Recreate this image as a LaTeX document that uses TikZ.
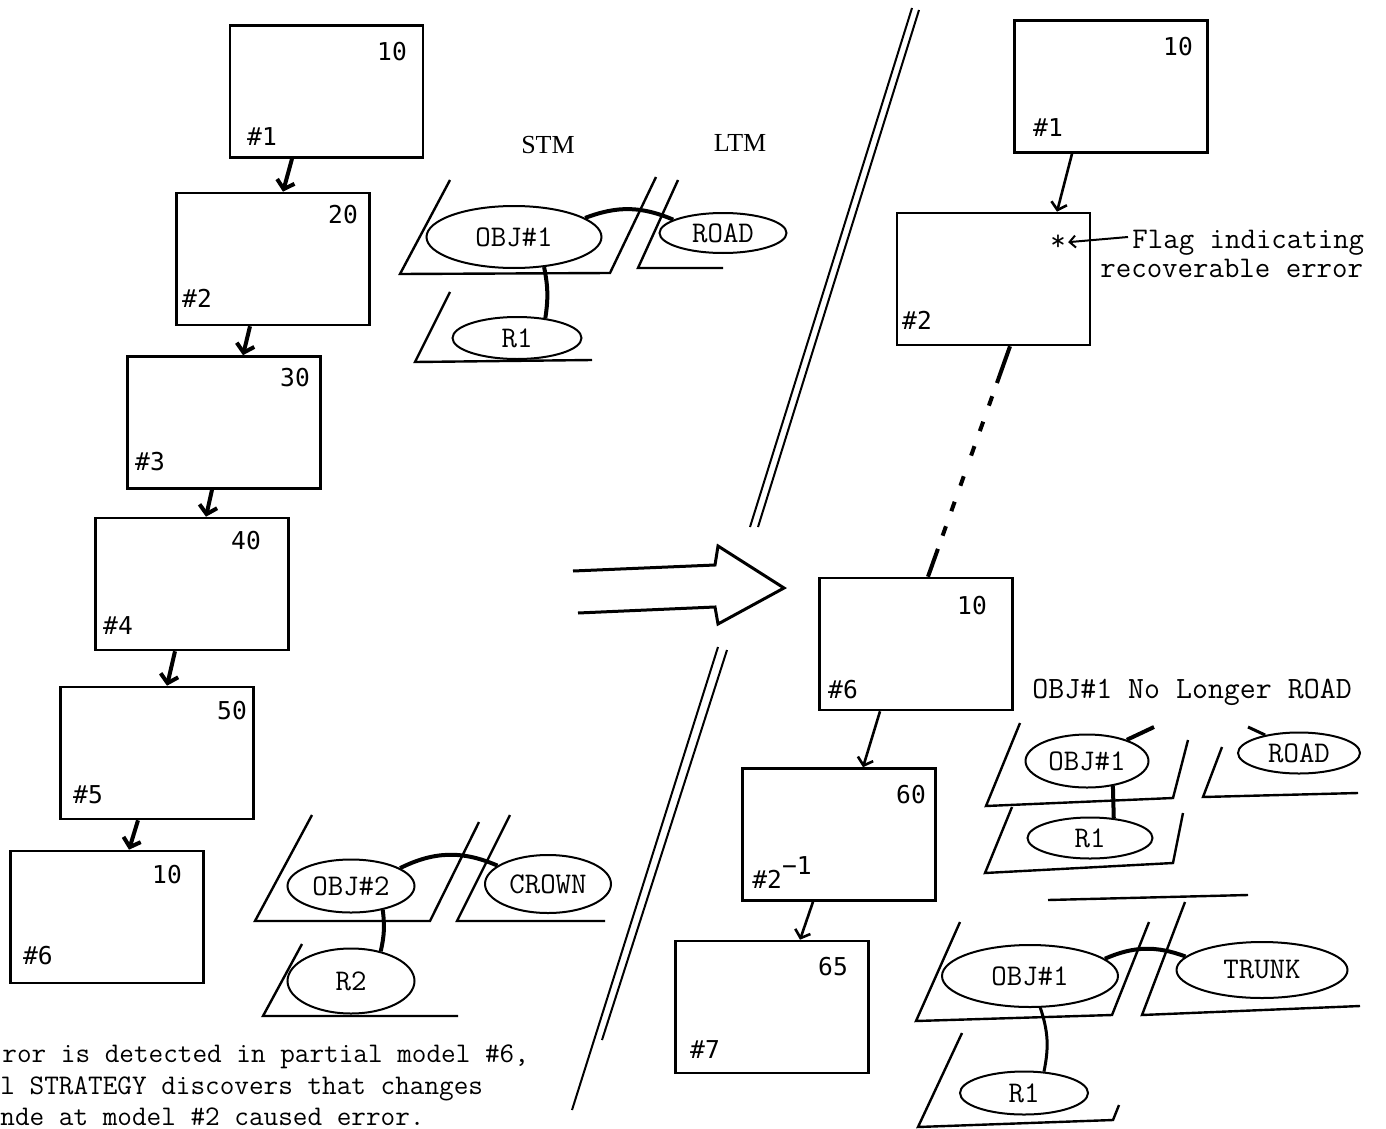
\documentclass[tikz,border=0pt]{standalone}
\usepackage{fontspec}
\usetikzlibrary{arrows.meta,shapes.geometric,calc}
\newfontfamily\boxfont{DejaVu Sans Mono}
\newfontfamily\rmlab{Liberation Serif}
\begin{document}
\begin{tikzpicture}[x=0.5pt,y=-0.5pt,
  box/.style={draw, line width=1.3pt, minimum width=96.5pt, minimum height=66pt, inner sep=0pt},
  num/.style={font=\boxfont\fontsize{12.3}{14}\selectfont, inner sep=0pt},
  conn/.style={line width=2pt, -{Straight Barb[length=4pt,width=9pt]}},
  thinconn/.style={line width=1.3pt, -{Straight Barb[length=3.5pt,width=8pt]}},
  ell/.style={draw, ellipse, line width=1pt, inner sep=0pt, font=\fontsize{15}{17}\ttfamily\addfontfeatures{FakeBold=3}},
  sz/.style 2 args={minimum width=#1*0.5pt, minimum height=#2*0.5pt},
  plane/.style={line width=1.2pt},
  link/.style={line width=2pt},
  tw/.style={font=\fontsize{15}{17}\ttfamily\addfontfeatures{FakeBold=3}, inner sep=0pt},
  twl/.style={font=\fontsize{15.5}{17}\ttfamily\addfontfeatures{FakeBold=3}, inner sep=0pt},
  twb/.style={font=\fontsize{14.2}{16}\ttfamily\addfontfeatures{FakeBold=3}, inner sep=0pt},
  lab/.style={font=\rmlab\fontsize{13}{15}\selectfont, inner sep=0pt},
  slash/.style={line width=1pt}
]
\useasboundingbox (0,0) rectangle (1386,1129);

% ---------- left column of partial models ----------
\node[box] (b1) at (326.5,91.5) {};
\node[box] (b2) at (273,259) {};
\node[box] (b3) at (224,422.5) {};
\node[box] (b4) at (192,584) {};
\node[box] (b5) at (157,753) {};
\node[box] (b6) at (107,917) {};
\node[num] (b1n) at (392,52) {10};   \node[num] (b1h) at (262,137) {\#1};
\node[num] (b2n) at (343,215) {20};  \node[num] (b2h) at (197,298) {\#2};
\node[num] (b3n) at (295,378) {30};  \node[num] (b3h) at (150,462) {\#3};
\node[num] (b4n) at (246,541) {40};  \node[num] (b4h) at (118,626) {\#4};
\node[num] (b5n) at (232,711) {50};  \node[num] (b5h) at (88,795) {\#5};
\node[num] (b6n) at (167,875) {10};  \node[num] (b6h) at (38,956) {\#6};
\draw[conn] ($(b1.south)+(-34.5,0)$) -- ($(b2.north)+(10,0)$);
\draw[conn] ($(b2.south)+(-23,0)$) -- ($(b3.north)+(19,0)$);
\draw[conn] ($(b3.south)+(-12,0)$) -- ($(b4.north)+(14,0)$);
\draw[conn] ($(b4.south)+(-17,0)$) -- ($(b5.north)+(10,0)$);
\draw[conn] ($(b5.south)+(-19,0)$) -- ($(b6.north)+(22,0)$);

% ---------- STM / LTM upper ----------
\node[lab] (stm) at (548,145) {STM};
\node[lab] (ltm) at (740,143) {LTM};
\draw[plane] (450,180) -- (400,274) -- (610,273) -- (656,177);
\draw[plane] (678,180) -- (638,268) -- (723,268);
\draw[plane] (450,292) -- (415,362) -- (592,360);
\node[ell, sz={175}{62}] (o1) at (514,237) {OBJ\#1};
\node[ell, sz={127}{40}] (road1) at (723,233) {ROAD};
\node[ell, sz={129}{42}] (r1e) at (517,338) {R1};
\draw[link] (o1.15) to[bend left=22] (road1.165);
\draw[link] (o1.-45) to[bend left=10] (r1e.35);

% ---------- STM / LTM lower left ----------
\draw[plane] (312,815) -- (255,921) -- (430,921) -- (479,822);
\draw[plane] (510,815) -- (457,921) -- (605,921);
\draw[plane] (302,944) -- (263,1016) -- (458,1016);
\node[ell, sz={127}{53}] (o2) at (351,886) {OBJ\#2};
\node[ell, sz={126}{58}] (crown) at (548,884) {CROWN};
\node[ell, sz={127}{65}] (r2e) at (351,981) {R2};
\draw[link] (o2.20) to[bend left=25] (crown.160);
\draw[link] (o2.-37) to[bend left=10] (r2e.45);

% ---------- bottom text ----------
\node[twb, anchor=base west] (t1) at (2,1062) {ror is detected in partial model \#6,};
\node[twb, anchor=base west] (t2) at (0,1094) {l STRATEGY discovers that changes};
\node[twb, anchor=base west] (t3) at (0,1125) {nde at model \#2 caused error.};

% ---------- separators ----------
\draw[slash] (912,8) -- (750,527);
\draw[slash] (919,10) -- (758,527);
\draw[slash] (718,647) -- (572,1110);
\draw[slash] (727,650) -- (602,1040);

% ---------- big arrow ----------
\draw[line width=1.5pt, line join=miter] (573,571) -- (715,565) -- (718,546) -- (784,588) -- (718,624) -- (715,607) -- (578,613);

% ---------- right column ----------
\node[box] (r1) at (1111,86.5) {};
\node[box] (r2) at (993.5,279) {};
\node[box] (r6) at (916,644) {};
\node[box] (r60) at (839,834.5) {};
\node[box] (r7) at (772,1007) {};
\node[num] (r1n) at (1178,47) {10};  \node[num] (r1h) at (1048,128) {\#1};
\node[tw, anchor=base] (ast) at (1058,250) {*};
\node[num] (r2h) at (917,320) {\#2};
\node[num] (r6n) at (972,606) {10};  \node[num] (r6h) at (843,690) {\#6};
\node[num] (r60n) at (911,795) {60};
\node[num, anchor=base west] (r60h) at (752,888) {\#2\raisebox{7pt}{−1}};
\node[num] (r7n) at (833,967) {65};  \node[num] (r7h) at (705,1050) {\#7};
\draw[thinconn] ($(r1.south)+(-39,0)$) -- ($(r2.north)+(63.5,0)$);
\draw[line width=2pt, dash pattern=on 19.5pt off 7pt on 5pt off 8.5pt on 5pt off 8pt on 5pt off 11pt on 5pt off 8.5pt on 5pt off 8pt on 5pt off 7pt on 20pt]
  ($(r2.south)+(16.5,0)$) -- ($(r6.north)+(12,0)$);
\draw[thinconn] ($(r6.south)+(-36,0)$) -- ($(r60.north)+(24,0)$);
\draw[thinconn] ($(r60.south)+(-26,0)$) -- ($(r7.north)+(28,0)$);

\node[tw, anchor=base west] (flag1) at (1132,248) {Flag indicating};
\node[tw, anchor=base west] (flag2) at (1100,277) {recoverable error};
\draw[line width=1pt, -{Straight Barb[length=3pt,width=6pt]}] ($(flag1.base west)+(-4,-11)$) -- ($(ast.east)+(2,0)$);

% ---------- no longer road ----------
\node[twl, anchor=base west] (nolonger) at (1032,698) {OBJ\#1 No Longer ROAD};
\draw[plane] (1020,723) -- (986,806) -- (1173,798) -- (1188,740);
\draw[plane] (1222,747) -- (1203,797) -- (1358,793);
\draw[plane] (1012,807) -- (985,873) -- (1173,863) -- (1183,813);
\node[ell, sz={123}{53}] (o3) at (1087,761) {OBJ\#1};
\node[ell, sz={122}{41}] (road2) at (1299,753) {ROAD};
\node[ell, sz={125}{41}] (r3e) at (1090,838) {R1};
\coordinate (stubA) at (1154,727);
\coordinate (stubB) at (1248,727);
\draw[link] (o3.28) -- (stubA);
\draw[line width=1.5pt] (road2.152) -- (stubB);
\draw[link] (o3.-44) -- (r3e.40);

% ---------- trunk ----------
\draw[plane] (1048,900) -- (1248,895);
\draw[plane] (960,922) -- (916,1021) -- (1112,1015) -- (1149,922);
\draw[plane] (1185,902) -- (1142,1015) -- (1360,1006);
\draw[plane] (962,1033) -- (918,1127) -- (1113,1120) -- (1119,1105);
\node[ell, sz={176}{62}] (o4) at (1030,976) {OBJ\#1};
\node[ell, sz={171}{56}] (trunk) at (1262,970) {TRUNK};
\node[ell, sz={128}{43}] (r4e) at (1024,1093) {R1};
\draw[link] (o4.13) to[bend left=22] (trunk.170);
\draw[line width=1.5pt] (o4.-72) to[bend left=15] (r4e.47);
\end{tikzpicture}
\end{document}
